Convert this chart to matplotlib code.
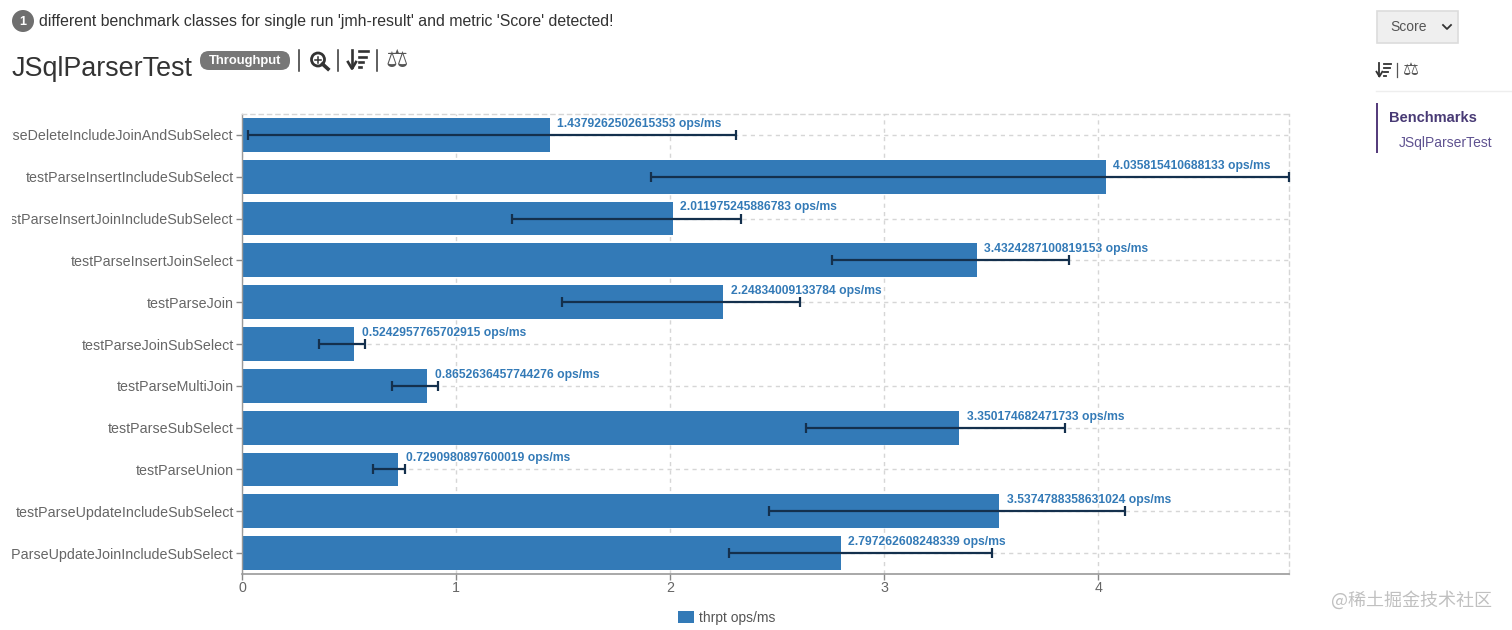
import matplotlib
matplotlib.use("Agg")
import matplotlib.pyplot as plt
from matplotlib.patches import Circle, FancyBboxPatch, Rectangle
from matplotlib.transforms import Bbox

plt.rcParams['font.family'] = ['Liberation Sans', 'DejaVu Sans']

benchmarks = ["testParseDeleteIncludeJoinAndSubSelect", "testParseInsertIncludeSubSelect",
              "testParseInsertJoinIncludeSubSelect", "testParseInsertJoinSelect", "testParseJoin",
              "testParseJoinSubSelect", "testParseMultiJoin", "testParseSubSelect", "testParseUnion",
              "testParseUpdateIncludeSubSelect", "testParseUpdateJoinIncludeSubSelect"]
scores = [1.4379262502615353, 4.035815410688133, 2.011975245886783, 3.4324287100819153,
          2.24834009133784, 0.5242957765702915, 0.8652636457744276, 3.350174682471733,
          0.7290980897600019, 3.5374788358631024, 2.797262608248339]
score_text = ["1.4379262502615353", "4.035815410688133", "2.011975245886783", "3.4324287100819153",
              "2.24834009133784", "0.5242957765702915", "0.8652636457744276", "3.350174682471733",
              "0.7290980897600019", "3.5374788358631024", "2.797262608248339"]
err_low = [0.028, 1.911, 1.262, 2.757, 1.495, 0.360, 0.700, 2.636, 0.612, 2.463, 2.276]
err_high = [2.308, 4.892, 2.332, 3.864, 2.607, 0.575, 0.916, 3.846, 0.762, 4.126, 3.505]
x_ticks = [0, 1, 2, 3, 4]
unit = "ops/ms"

BLUE = "#337ab7"
GRID = "#d6d6d6"

fig = plt.figure(figsize=(15.12, 6.3), dpi=100)

# overlay in pixel coords for the page parts around the chart
page = fig.add_axes([0, 0, 1, 1])
page.set_xlim(0, 1512)
page.set_ylim(630, 0)
page.axis("off")


def sort_icon(x, y, h, lw):
    s = h / 15.0
    page.plot([x + 3*s, x + 3*s], [y, y + 13*s], color="#333333", lw=lw)
    page.plot([x, x + 3*s, x + 6*s], [y + 9*s, y + 14*s, y + 9*s], color="#333333", lw=lw)
    for i, w in enumerate([7, 5.5, 3.5, 1.5]):
        page.plot([x + 8*s, x + (8 + w)*s], [y + (1 + i*4)*s]*2, color="#333333", lw=lw)


def scale_icon(x, y, size):
    page.text(x, y, "\u2696", fontsize=size, color="#555555", ha="center", va="center",
              family="DejaVu Sans")


# header
page.add_patch(Circle((23, 21), 11, color="#6f6f6f", lw=0))
page.text(23, 22, "1", color="white", fontsize=9, fontweight="bold", ha="center", va="center")
page.text(39, 21.5, "different benchmark classes for single run 'jmh-result' and metric 'Score' detected!",
          fontsize=11.4, color="#333333", va="center")
page.text(12, 69, "JSqlParserTest", fontsize=19.4, color="#333333", va="center")
page.add_patch(FancyBboxPatch((200, 51), 90, 19, boxstyle="round,pad=0,rounding_size=9",
                              fc="#777777", ec="none"))
page.text(245, 61, "Throughput", color="white", fontsize=9.4, fontweight="bold", ha="center", va="center")
for sx in [299, 338, 377]:
    page.plot([sx, sx], [50, 71], color="#333333", lw=1.1)
page.add_patch(Circle((318, 59.5), 6.5, fc="none", ec="#333333", lw=2.0))
page.plot([322.5, 328], [64, 69], color="#333333", lw=2.6)
page.plot([315, 321], [59.5, 59.5], color="#333333", lw=1.1)
page.plot([318, 318], [56.5, 62.5], color="#333333", lw=1.1)
sort_icon(348, 50, 20, 1.9)
scale_icon(396.5, 60, 18)

# right side panel
page.add_patch(Rectangle((1376.5, 10.5), 81, 32, fc="#efefef", ec="#dcdcdc", lw=1.2))
page.text(1409, 27, "Score", fontsize=10, color="#555555", ha="center", va="center")
page.plot([1443, 1447, 1451], [25, 29, 25], color="#333333", lw=1.3)
sort_icon(1376.5, 63, 14.5, 1.3)
page.plot([1397, 1397], [63, 77], color="#555555", lw=0.9)
scale_icon(1411.5, 70, 13)
page.plot([1376, 1512], [91, 91], color="#eeeeee", lw=1)
page.add_patch(Rectangle((1376, 103), 2, 50, fc="#563d7c", ec="none"))
page.text(1389, 117.5, "Benchmarks", fontsize=10.5, fontweight="bold", color="#483a75", va="center")
page.text(1399, 143.5, "JSqlParserTest", fontsize=10, color="#5f5290", va="center")

page.text(1492, 600, "@稀土掘金技术社区", fontsize=13, color="#c0c0c0", ha="right", va="center",
          family=["Noto Sans CJK SC", "DejaVu Sans"])

# chart
ax = fig.add_axes([242/1512, (630-574)/630, (1289-242)/1512, (574-114)/630])
ax.patch.set_alpha(0)
ax.set_axisbelow(True)
ax.grid(True, color=GRID, lw=1, ls=(0, (3, 3)))

pos = list(range(len(benchmarks)))
ax.barh(pos, scores, height=0.81, color=BLUE, label="thrpt " + unit)
for i in pos:
    ax.errorbar(scores[i], i, xerr=[[scores[i] - err_low[i]], [err_high[i] - scores[i]]],
                color="#14304d", lw=1.6, capsize=3.4, capthick=1.6, clip_on=False, zorder=4)
    ax.annotate(score_text[i] + " " + unit, (scores[i], i), xytext=(5.4, 8), textcoords="offset points",
                color=BLUE, fontsize=8.75, fontweight="bold", va="center", ha="left",
                annotation_clip=False, zorder=5)

ax.set_xlim(0, 4.892)
ax.set_ylim(len(benchmarks) - 0.5, -0.5)
ax.set_xticks(x_ticks)
ax.set_yticks(pos)
ax.set_yticklabels(benchmarks)
ax.tick_params(axis="both", labelsize=10.3, labelcolor="#666666", color="#888888", length=4, width=1)
ax.tick_params(axis="x", pad=1)
ax.tick_params(axis="y", pad=2)

# long names get cut at the left edge of the chart area like in the page
clip = Bbox([[12, 0], [242, 630]])
for lab in ax.get_yticklabels():
    lab.set_clip_box(clip)
    lab.set_clip_on(True)
    lab.set_y(lab.get_position()[1])

for side in ["top", "right"]:
    ax.spines[side].set_color(GRID)
    ax.spines[side].set_linestyle((0, (3, 3)))
    ax.spines[side].set_linewidth(1)
ax.spines["left"].set_color("#999999")
ax.spines["left"].set_linewidth(1)
ax.spines["bottom"].set_color("#999999")
ax.spines["bottom"].set_linewidth(1.2)
ax.spines["bottom"].set_linestyle((0, (2, 1)))

fig.legend(loc="center", bbox_to_anchor=(727/1512, 1 - 618/630), frameon=False, fontsize=10,
           labelcolor="#555555", handlelength=1.1, handleheight=0.9, handletextpad=0.4)

fig.savefig("out.png", dpi=100)
